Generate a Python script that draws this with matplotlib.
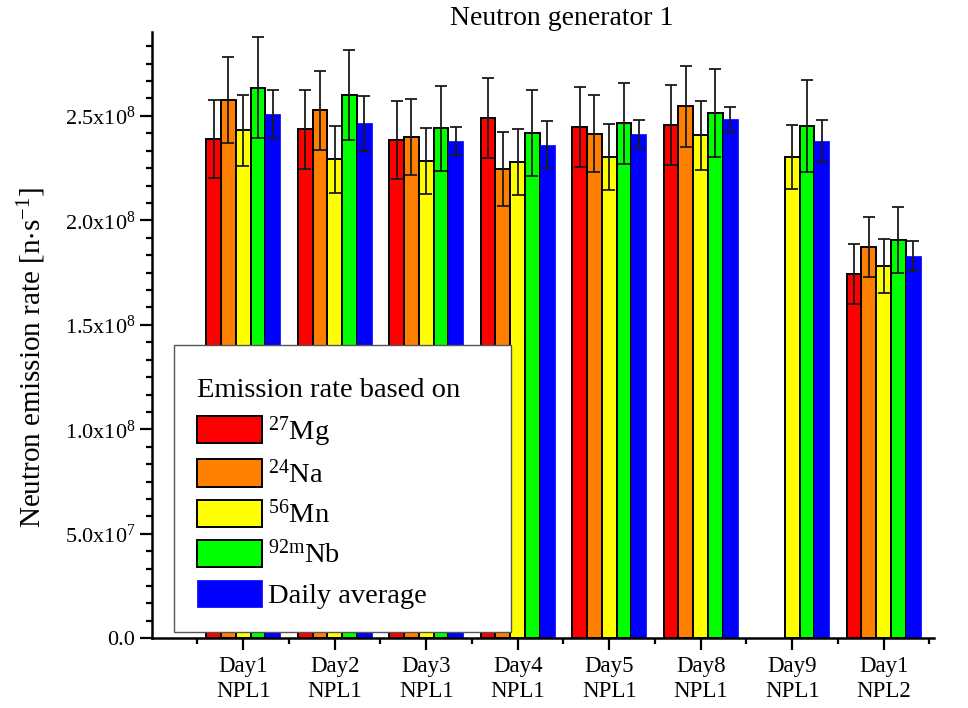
import numpy as np
import matplotlib
matplotlib.use("Agg")
import matplotlib.pyplot as plt
from matplotlib.ticker import MultipleLocator, FixedLocator
from matplotlib.offsetbox import DrawingArea

plt.rcParams['font.family'] = ['Liberation Serif', 'DejaVu Serif']
plt.rcParams['mathtext.fontset'] = 'custom'
plt.rcParams['mathtext.rm'] = 'Liberation Serif'
plt.rcParams['mathtext.it'] = 'Liberation Serif:italic'
plt.rcParams['mathtext.bf'] = 'Liberation Serif:bold'

# ---- data (units of 1e8 n/s) ----
categories = ["Day1\nNPL1", "Day2\nNPL1", "Day3\nNPL1", "Day4\nNPL1",
              "Day5\nNPL1", "Day8\nNPL1", "Day9\nNPL1", "Day1\nNPL2"]
series_labels = [r"$\mathregular{^{27}}$Mg", r"$\mathregular{^{24}}$Na",
                 r"$\mathregular{^{56}}$Mn", r"$\mathregular{^{92m}}$Nb",
                 "Daily average"]
mg = [2.389, 2.435, 2.384, 2.490, 2.447, 2.456, np.nan, 1.743]
na = [2.576, 2.526, 2.399, 2.245, 2.415, 2.545, np.nan, 1.872]
mn = [2.431, 2.293, 2.284, 2.279, 2.304, 2.407, 2.304, 1.781]
nb = [2.635, 2.600, 2.440, 2.418, 2.464, 2.512, 2.451, 1.904]
avg = [2.509, 2.464, 2.379, 2.362, 2.412, 2.483, 2.381, 1.828]
mg_err = [0.185, 0.19, 0.188, 0.193, 0.193, 0.193, np.nan, 0.142]
na_err = [0.207, 0.19, 0.18, 0.176, 0.183, 0.194, np.nan, 0.144]
mn_err = [0.17, 0.16, 0.157, 0.156, 0.158, 0.166, 0.152, 0.128]
nb_err = [0.243, 0.217, 0.204, 0.206, 0.195, 0.211, 0.22, 0.158]
avg_err = [0.115, 0.13, 0.066, 0.112, 0.068, 0.06, 0.10, 0.072]

yticks = [0.0, 0.5e8, 1.0e8, 1.5e8, 2.0e8, 2.5e8]
ytick_labels = ["0.0", r"$\mathregular{5.0x10^{7}}$", r"$\mathregular{1.0x10^{8}}$",
                r"$\mathregular{1.5x10^{8}}$", r"$\mathregular{2.0x10^{8}}$",
                r"$\mathregular{2.5x10^{8}}$"]

values = [mg, na, mn, nb, avg]
errors = [mg_err, na_err, mn_err, nb_err, avg_err]
colors = ["#FF0000", "#FF8000", "#FFFF00", "#00FF00", "#0000FF"]

fig = plt.figure(figsize=(9.68, 7.08), dpi=100)
ax = fig.add_axes([151.7/968, 1-638.3/708, 782.3/968, 606/708])

x = np.arange(1, len(categories)+1)
w = 0.1617
handles = []
for k, (v, e, c) in enumerate(zip(values, errors, colors)):
    v = np.array(v) * 1e8
    e = np.array(e) * 1e8
    m = ~np.isnan(v)
    xp = x[m] + (k-2)*w
    if k < 4:
        b = ax.bar(xp, v[m], width=w, color=c, edgecolor='black', linewidth=1.4,
                   zorder=2, label=series_labels[k])
    else:
        b = ax.bar(xp, v[m], width=w, color=c, edgecolor=c, linewidth=0.5,
                   zorder=2, label=series_labels[k])
    ax.errorbar(xp, v[m], yerr=e[m], fmt='none', ecolor='#1a1a1a', elinewidth=1.3,
                capsize=4.4, capthick=1.3, zorder=3)
    handles.append(b)

ax.set_xlim(0, 8.55)
ax.set_ylim(0, 2.9e8)
ax.set_xticks(x)
ax.set_xticklabels(categories, fontsize=16.5, linespacing=1.25)
ax.xaxis.set_minor_locator(FixedLocator(np.arange(0, 9, 1.0) + 0.5))
ax.set_yticks(yticks)
ax.set_yticklabels(ytick_labels, fontsize=16)
ax.yaxis.set_minor_locator(MultipleLocator(0.5e8/6))

for s in ['top', 'right']:
    ax.spines[s].set_visible(False)
for s in ['left', 'bottom']:
    ax.spines[s].set_linewidth(1.8)
ax.tick_params(axis='both', which='major', direction='out', length=8.8, width=1.6)
ax.tick_params(axis='both', which='minor', direction='out', length=4.0, width=1.6)
ax.tick_params(axis='x', which='major', pad=4)
ax.tick_params(axis='y', which='major', pad=3)

ax.set_ylabel(r"Neutron emission rate [n$\mathregular{\cdot}$s$\mathregular{^{-1}}$]", fontsize=21)
ax.yaxis.set_label_coords(-0.1326, 0.4625)

fig.text(562/968, 1-6/708, "Neutron generator 1", ha='center', va='top', fontsize=20)

leg = ax.legend(handles=handles, labels=series_labels,
                title="Emission rate based on" + "\u00a0\u00a0\u00a0\u00a0",
                loc='lower left', bbox_to_anchor=(0.0285, 0.0104),
                fontsize=20.5, title_fontsize=20.5, alignment='left',
                frameon=True, fancybox=False, framealpha=1, edgecolor='#555555',
                handlelength=2.28, handleheight=1.1, handletextpad=0.22,
                labelspacing=0.38, borderpad=0.8, borderaxespad=0)
leg.get_frame().set_linewidth(1.0)
leg.set_zorder(5)
# extra space above the legend title
try:
    spacer = DrawingArea(1, 0)
    spacer.set_figure(fig)
    leg._legend_box._children.insert(0, spacer)
except Exception:
    pass

fig.savefig("out.png", dpi=100)
